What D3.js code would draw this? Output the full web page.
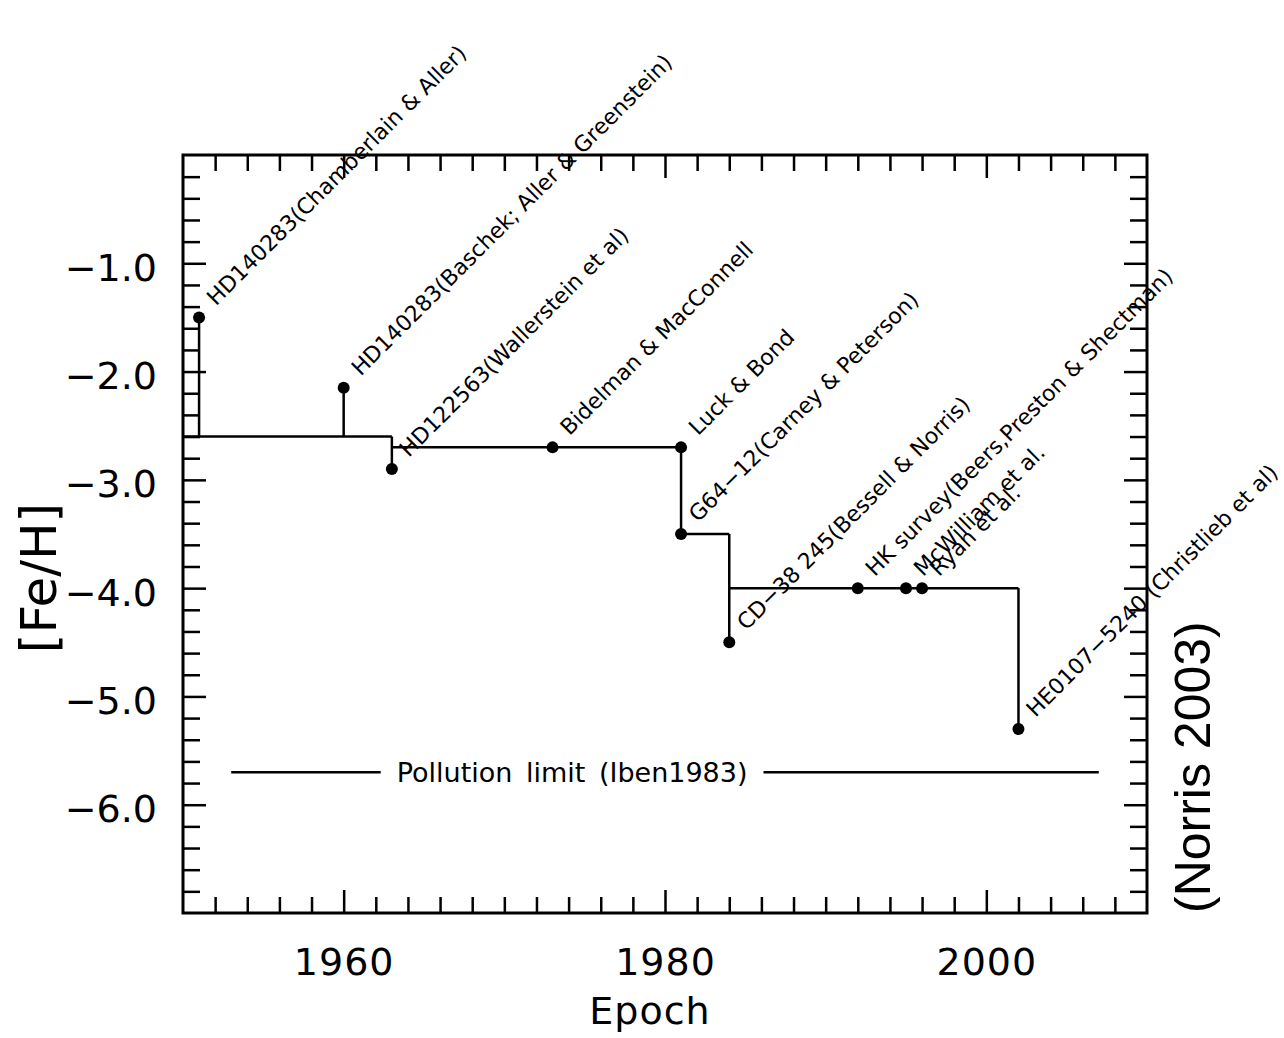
<!DOCTYPE html>
<html>
<head>
<meta charset="utf-8">
<script src="https://cdn.jsdelivr.net/npm/d3@7"></script>
<style>
  body { margin: 0; background: #fff; }
  text { font-family: "DejaVu Sans", sans-serif; fill: #000; }
</style>
</head>
<body>
<svg id="chart" width="1284" height="1038"></svg>
<script>
// Record-holding metal-poor stars by year of discovery
const starLabels = [
  "HD140283(Chamberlain & Aller)",
  "HD140283(Baschek; Aller & Greenstein)",
  "HD122563(Wallerstein et al)",
  "Bidelman & MacConnell",
  "Luck & Bond",
  "G64\u221212(Carney & Peterson)",
  "CD\u221238 245(Bessell & Norris)",
  "HK survey(Beers,Preston & Shectman)",
  "McWilliam et al.",
  "Ryan et al.",
  "HE0107\u22125240 (Christlieb et al)"
];
const starEpochs = [1951, 1960, 1963, 1973, 1981, 1981, 1984, 1992, 1995, 1996, 2002];
const starFeH    = [-1.5, -2.15, -2.9, -2.7, -2.7, -3.5, -4.5, -4.0, -4.0, -4.0, -5.3];

// Lowest-metallicity level over time
const levelFrom = [1950, 1963, 1981, 1984];
const levelTo   = [1963, 1981, 1984, 2002];
const levelFeH  = [-2.6, -2.7, -3.5, -4.0];

// Pollution limit
const pollutionFeH = -5.7;
const pollutionFrom = 1953;
const pollutionTo = 2007;
const pollutionText = "Pollution limit (Iben1983)";
const pollutionTextEpoch = 1963.3;

// Axes
const xDomain = [1950, 2010];
const yDomain = [0, -7];
const xTickLabels = [1960, 1980, 2000];
const yTickLabels = [-1, -2, -3, -4, -5, -6];
const xLabel = "Epoch";
const yLabel = "[Fe/H]";
const sourceNote = "(Norris 2003)";

const svg = d3.select("#chart");
const frame = { left: 183, right: 1147, top: 155, bottom: 913 };

const x = d3.scaleLinear().domain(xDomain).range([frame.left, frame.right]);
const y = d3.scaleLinear().domain(yDomain).range([frame.top, frame.bottom]);

const xMinor = d3.range(xDomain[0] + 2, xDomain[1], 2).filter(v => !xTickLabels.includes(v));
const yMinor = d3.range(1, 35).map(i => -i * 0.2)
  .filter(v => !yTickLabels.some(t => Math.abs(t - v) < 1e-6));

function styleAxis(g) {
  g.select(".domain").remove();
  g.selectAll(".tick line").attr("stroke", "#000").attr("stroke-width", 2.5);
}

// Bottom
svg.append("g").attr("transform", `translate(0,${frame.bottom})`)
  .call(d3.axisBottom(x).tickValues(xMinor).tickSize(-16).tickFormat(""))
  .call(styleAxis);
const bx = svg.append("g").attr("transform", `translate(0,${frame.bottom})`)
  .call(d3.axisBottom(x).tickValues(xTickLabels).tickSize(-23).tickPadding(35).tickFormat(d3.format("d")))
  .call(styleAxis);
bx.selectAll("text").attr("font-size", 38).attr("font-family", "DejaVu Sans").attr("letter-spacing", 1);

// Top
svg.append("g").attr("transform", `translate(0,${frame.top})`)
  .call(d3.axisTop(x).tickValues(xMinor).tickSize(-16).tickFormat(""))
  .call(styleAxis);
svg.append("g").attr("transform", `translate(0,${frame.top})`)
  .call(d3.axisTop(x).tickValues(xTickLabels).tickSize(-23).tickFormat(""))
  .call(styleAxis);

// Left
svg.append("g").attr("transform", `translate(${frame.left},0)`)
  .call(d3.axisLeft(y).tickValues(yMinor).tickSize(-17).tickFormat(""))
  .call(styleAxis);
const ly = svg.append("g").attr("transform", `translate(${frame.left},0)`)
  .call(d3.axisLeft(y).tickValues(yTickLabels).tickSize(-23).tickPadding(26).tickFormat(d3.format(".1f")))
  .call(styleAxis);
ly.selectAll("text").attr("font-size", 38).attr("font-family", "DejaVu Sans").attr("dy", "0.45em");

// Right
svg.append("g").attr("transform", `translate(${frame.right},0)`)
  .call(d3.axisRight(y).tickValues(yMinor).tickSize(-17).tickFormat(""))
  .call(styleAxis);
svg.append("g").attr("transform", `translate(${frame.right},0)`)
  .call(d3.axisRight(y).tickValues(yTickLabels).tickSize(-23).tickFormat(""))
  .call(styleAxis);

// Frame
svg.append("rect")
  .attr("x", frame.left).attr("y", frame.top)
  .attr("width", frame.right - frame.left).attr("height", frame.bottom - frame.top)
  .attr("fill", "none").attr("stroke", "#000").attr("stroke-width", 3);

// Axis titles
svg.append("text")
  .attr("x", 650).attr("y", 1024)
  .attr("text-anchor", "middle").attr("font-size", 38).attr("letter-spacing", 1)
  .text(xLabel);
svg.append("text")
  .attr("transform", "translate(56,578) rotate(-90)")
  .attr("text-anchor", "middle").attr("font-size", 50)
  .text(yLabel);
svg.append("text")
  .attr("transform", "translate(1210,913) rotate(-90)")
  .attr("text-anchor", "start").attr("font-size", 50)
  .style("font-family", "'Liberation Sans', Arial, sans-serif")
  .text(sourceNote);

const plot = svg.append("g").attr("stroke", "#000").attr("stroke-width", 2.5).attr("fill", "none");

// Level steps
const levels = levelFrom.map((f, i) => ({ from: f, to: levelTo[i], feh: levelFeH[i] }));
plot.selectAll("line.level").data(levels).join("line")
  .attr("class", "level")
  .attr("x1", d => x(d.from)).attr("x2", d => x(d.to))
  .attr("y1", d => y(d.feh)).attr("y2", d => y(d.feh));

// Stems joining each star to the level in force just before it
const stars = starLabels.map((label, i) => ({ label, epoch: starEpochs[i], feh: starFeH[i] }));
function levelAt(epoch) {
  const l = levels.find(l => epoch > l.from && epoch <= l.to) || levels[0];
  return l.feh;
}
plot.selectAll("line.stem").data(stars).join("line")
  .attr("class", "stem")
  .attr("x1", d => x(d.epoch)).attr("x2", d => x(d.epoch))
  .attr("y1", d => y(levelAt(d.epoch))).attr("y2", d => y(d.feh));

// Pollution limit line with label gap
const pText = svg.append("text")
  .attr("x", x(pollutionTextEpoch)).attr("y", y(pollutionFeH) + 10)
  .attr("font-size", 27).attr("word-spacing", 5)
  .text(pollutionText);
const pb = pText.node().getBBox();
const gap = 16;
plot.append("line")
  .attr("x1", x(pollutionFrom)).attr("x2", pb.x - gap)
  .attr("y1", y(pollutionFeH)).attr("y2", y(pollutionFeH));
plot.append("line")
  .attr("x1", pb.x + pb.width + gap).attr("x2", x(pollutionTo))
  .attr("y1", y(pollutionFeH)).attr("y2", y(pollutionFeH));

// Star markers
svg.selectAll("circle.star").data(stars).join("circle")
  .attr("class", "star")
  .attr("cx", d => x(d.epoch)).attr("cy", d => y(d.feh))
  .attr("r", 6).attr("fill", "#000");

// Star labels, slanted
svg.selectAll("text.star-label").data(stars).join("text")
  .attr("class", "star-label")
  .attr("transform", d => `translate(${x(d.epoch) + 17},${y(d.feh) - 11}) rotate(-45)`)
  .attr("font-size", 22)
  .text(d => d.label);
</script>
</body>
</html>
